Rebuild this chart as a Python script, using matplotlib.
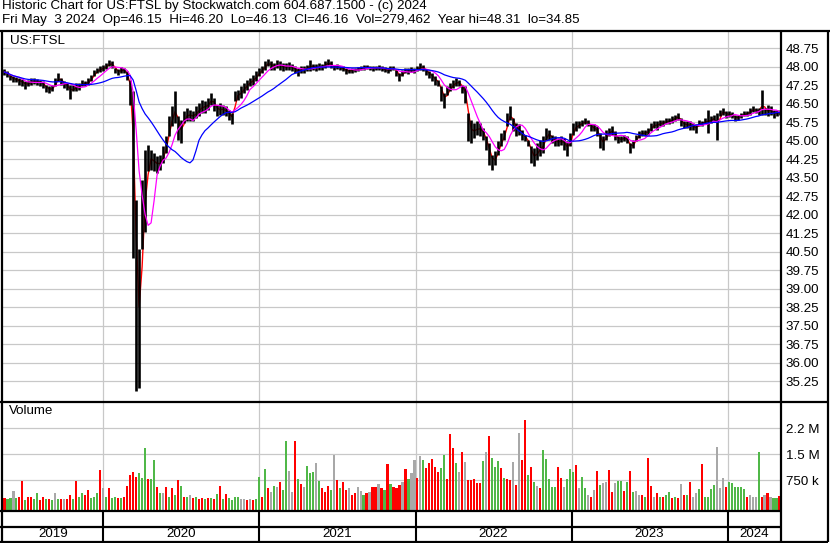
import numpy as np
import pandas as pd
import matplotlib
matplotlib.use("Agg")
import matplotlib.pyplot as plt
import matplotlib.dates as mdates
from matplotlib.lines import Line2D

plt.rcParams['font.family'] = ['Liberation Sans', 'DejaVu Sans']

# ---------------- data (weekly) ----------------
week_start = pd.date_range('2019-05-13', periods=260, freq='7D')

week_high = [
    47.88, 47.80, 47.67, 47.60, 47.57, 47.53, 47.50, 47.40, 47.47, 47.53,
    47.53, 47.50, 47.47, 47.40, 47.26, 47.20, 47.26, 47.53, 47.74, 47.53,
    47.40, 47.33, 47.26, 47.26, 47.33, 47.33, 47.47, 47.40, 47.53, 47.67,
    47.87, 47.94, 48.03, 48.07, 48.14, 48.25, 48.21, 47.94, 47.90, 47.98,
    47.94, 47.80, 47.47, 47.00, 42.60, 40.60, 43.40, 44.60, 44.83, 44.63,
    44.49, 44.36, 44.42, 44.76, 45.17, 45.98, 46.39, 46.99, 45.98, 45.85,
    46.18, 46.32, 46.25, 46.18, 46.39, 46.52, 46.66, 46.59, 46.72, 46.93,
    46.72, 46.45, 46.52, 46.45, 46.39, 46.25, 46.12, 46.99, 47.06, 47.20,
    47.33, 47.47, 47.53, 47.67, 47.80, 47.94, 48.01, 48.21, 48.30, 48.21,
    48.14, 48.25, 48.21, 48.14, 48.14, 48.17, 48.11, 48.01, 47.94, 48.03,
    48.01, 48.07, 48.28, 48.11, 48.11, 48.14, 48.11, 48.21, 48.30, 48.21,
    48.07, 48.11, 48.03, 48.01, 47.94, 47.90, 47.94, 47.94, 47.98, 48.03,
    48.07, 48.07, 48.03, 48.01, 48.03, 48.07, 48.01, 47.98, 47.94, 48.03,
    48.03, 47.87, 47.74, 47.87, 47.94, 47.94, 47.98, 47.94, 48.01, 48.14,
    48.07, 47.90, 47.80, 47.74, 47.60, 47.47, 47.20, 46.93, 47.20, 47.33,
    47.47, 47.53, 47.47, 47.26, 47.20, 46.12, 45.85, 45.71, 45.78, 45.71,
    45.51, 45.17, 44.90, 44.42, 44.56, 44.97, 45.30, 45.44, 46.12, 46.39,
    45.91, 45.71, 45.65, 45.44, 45.24, 45.03, 44.76, 44.70, 44.90, 45.03,
    45.17, 45.51, 45.44, 45.24, 45.17, 45.10, 45.17, 45.10, 44.97, 45.30,
    45.71, 45.78, 45.78, 45.85, 45.91, 45.85, 45.65, 45.65, 45.58, 45.30,
    45.17, 45.44, 45.51, 45.58, 45.37, 45.17, 45.17, 45.24, 45.17, 44.90,
    45.03, 45.24, 45.37, 45.44, 45.44, 45.51, 45.71, 45.78, 45.78, 45.85,
    45.85, 45.91, 45.91, 45.98, 46.05, 46.12, 45.91, 45.78, 45.78, 45.78,
    45.71, 45.65, 45.85, 45.78, 45.91, 46.25, 45.98, 46.05, 46.12, 46.25,
    46.32, 46.18, 46.18, 46.14, 46.05, 46.05, 46.12, 46.18, 46.18, 46.32,
    46.39, 46.32, 46.32, 47.06, 46.32, 46.45, 46.39, 46.25, 46.25, 46.25,
]

week_low = [
    47.67, 47.58, 47.45, 47.36, 47.36, 47.26, 47.20, 47.10, 47.20, 47.26,
    47.30, 47.26, 47.22, 47.13, 46.95, 46.93, 46.99, 47.20, 47.40, 47.26,
    47.13, 47.06, 46.68, 46.99, 46.99, 47.06, 47.20, 47.20, 47.26, 47.40,
    47.60, 47.74, 47.77, 47.80, 47.90, 48.01, 47.94, 47.74, 47.67, 47.74,
    47.74, 47.47, 46.45, 40.25, 34.85, 34.96, 40.60, 41.30, 43.75, 43.82,
    43.75, 43.68, 43.82, 44.09, 44.49, 45.17, 45.58, 45.71, 45.03, 44.90,
    45.71, 45.78, 45.78, 45.78, 45.91, 45.98, 46.12, 46.12, 46.25, 46.45,
    46.18, 45.98, 46.05, 46.05, 45.98, 45.85, 45.65, 46.59, 46.66, 46.72,
    46.93, 47.06, 47.20, 47.26, 47.40, 47.60, 47.74, 47.87, 48.01, 47.87,
    47.85, 47.94, 47.87, 47.80, 47.85, 47.87, 47.80, 47.74, 47.63, 47.74,
    47.74, 47.80, 47.80, 47.85, 47.80, 47.85, 47.87, 47.94, 48.01, 47.94,
    47.85, 47.90, 47.85, 47.80, 47.71, 47.74, 47.74, 47.77, 47.80, 47.85,
    47.87, 47.90, 47.85, 47.80, 47.85, 47.87, 47.80, 47.77, 47.74, 47.80,
    47.85, 47.60, 47.40, 47.63, 47.74, 47.71, 47.77, 47.74, 47.80, 47.87,
    47.80, 47.67, 47.53, 47.40, 47.26, 47.20, 46.59, 46.32, 46.86, 46.99,
    47.13, 47.20, 47.20, 46.93, 46.52, 44.97, 44.90, 45.10, 45.24, 45.17,
    45.03, 44.63, 44.02, 43.82, 44.02, 44.43, 44.76, 45.03, 45.58, 45.85,
    45.37, 45.17, 45.24, 45.03, 44.97, 44.76, 44.09, 43.95, 44.22, 44.36,
    44.49, 45.03, 45.03, 44.90, 44.76, 44.76, 44.83, 44.63, 44.36, 44.76,
    45.24, 45.37, 45.51, 45.58, 45.65, 45.58, 45.37, 45.37, 45.17, 44.70,
    44.63, 45.03, 45.17, 45.24, 45.03, 44.90, 44.93, 44.97, 44.90, 44.49,
    44.70, 44.97, 45.10, 45.17, 45.17, 45.24, 45.37, 45.51, 45.44, 45.58,
    45.58, 45.65, 45.65, 45.71, 45.78, 45.85, 45.58, 45.51, 45.51, 45.44,
    45.44, 45.30, 45.58, 45.58, 45.65, 45.30, 45.71, 45.78, 45.03, 45.98,
    46.05, 45.91, 45.94, 45.91, 45.78, 45.85, 45.91, 45.98, 45.98, 46.05,
    46.15, 46.10, 46.05, 46.05, 46.05, 45.98, 46.05, 45.91, 46.01, 46.05,
]

# volume in thousands of shares
week_volume_k = [
    220, 200, 240, 440, 220, 250, 730, 170, 270, 250,
    200, 385, 170, 270, 190, 200, 170, 366, 200, 200,
    200, 190, 317, 190, 730, 270, 366, 317, 460, 220,
    270, 366, 1040, 510, 250, 510, 240, 270, 220, 220,
    270, 577, 890, 990, 830, 960, 800, 1660, 780, 770,
    1330, 540, 366, 385, 540, 270, 510, 317, 750, 577,
    270, 270, 317, 220, 270, 190, 220, 200, 240, 220,
    210, 350, 577, 200, 350, 220, 170, 270, 270, 190,
    200, 170, 200, 170, 190, 850, 270, 1070, 510, 414,
    577, 540, 700, 460, 1880, 1020, 414, 1880, 780, 635,
    540, 1150, 943, 990, 1230, 730, 510, 414, 577, 460,
    1470, 750, 510, 700, 460, 510, 317, 366, 540, 440,
    317, 366, 414, 540, 540, 635, 510, 460, 1210, 635,
    560, 510, 600, 700, 1070, 770, 960, 1330, 800, 1440,
    1330, 1090, 1230, 1350, 1135, 990, 1090, 1470, 770, 2080,
    1660, 1230, 990, 1570, 1280, 750, 750, 770, 650, 650,
    1300, 1568, 2020, 1376, 1135, 1300, 1090, 800, 770, 750,
    1260, 600, 2100, 1330, 2480, 895, 1135, 700, 577, 510,
    1616, 1347, 770, 540, 540, 1115, 800, 540, 780, 1060,
    990, 1180, 510, 850, 510, 317, 270, 460, 1020, 600,
    650, 700, 1040, 414, 650, 720, 730, 440, 700, 1020,
    414, 440, 317, 317, 270, 1376, 577, 270, 366, 270,
    250, 317, 414, 240, 250, 220, 635, 317, 317, 700,
    270, 366, 480, 1210, 270, 270, 480, 600, 1690, 510,
    800, 540, 700, 650, 540, 540, 540, 480, 270, 317,
    270, 270, 1560, 270, 317, 366, 250, 220, 220, 280,
]

# r = down, g = up, n = unchanged (one letter per week)
week_volume_dir = "".join([
    "rggngrrgrr", "ggrrgrgngr", "nrrgrggrrg", "ggrngrggrg",
    "rrrrrgggrg", "grgnrgrgrg", "rgnrgrrgrg", "rgrgrggggn",
    "nrnrggrgrn", "gnrggnnrgr", "ngggngrrrg", "nrgrrnrrnn",
    "grnrrnrgrg", "rrrnrgnnrn", "grrrrrggrr", "rgnrnrrrrr",
    "gnrgggrgrr", "nrnrrgrgnr", "gggggrrngg", "grnggnrnrg",
    "nnrrnggrgr", "gnnrgrrnrg", "rggrgrnrgr", "nngrggggnn",
    "nrggggggrn", "nngrnrnggr",
])

price_ticks = [35.25, 36.00, 36.75, 37.50, 38.25, 39.00, 39.75, 40.50, 41.25,
               42.00, 42.75, 43.50, 44.25, 45.00, 45.75, 46.50, 47.25, 48.00, 48.75]
volume_ticks = [750000, 1500000, 2250000]
volume_tick_labels = ["750 k", "1.5 M", "2.2 M"]
years = [2019, 2020, 2021, 2022, 2023, 2024]

title1 = "Historic Chart for US:FTSL by Stockwatch.com 604.687.1500 - (c) 2024"
title2 = ("Fri May  3 2024  Op=46.15  Hi=46.20  Lo=46.13  Cl=46.16  "
          "Vol=279,462  Year hi=48.31  lo=34.85")

FS = 9.6

# ---------------- figure ----------------
W, H = 830, 543
fig = plt.figure(figsize=(W / 100, H / 100), dpi=100)
fig.patch.set_facecolor('white')


def frac(x0, y0, x1, y1):
    return [x0 / W, 1 - y1 / H, (x1 - x0) / W, (y1 - y0) / H]


def hline(y, x0, x1, lw=1.5):
    fig.add_artist(Line2D([x0 / W, x1 / W], [1 - y / H, 1 - y / H],
                          transform=fig.transFigure, color='black', lw=lw,
                          solid_capstyle='butt'))


def vline(x, y0, y1, lw=1.5):
    fig.add_artist(Line2D([x / W, x / W], [1 - y0 / H, 1 - y1 / H],
                          transform=fig.transFigure, color='black', lw=lw,
                          solid_capstyle='butt'))


ax = fig.add_axes(frac(3, 32, 780, 401))
axv = fig.add_axes(frac(3, 402, 780, 510))
axb = fig.add_axes(frac(3, 511, 780, 541))

x = mdates.date2num(week_start) + 2.5
x0_ref = mdates.date2num(pd.Timestamp('2020-01-01'))
xlim = (x0_ref - 233.9, x0_ref + 1583.6)
year_x = [mdates.date2num(pd.Timestamp(f'{y}-01-01')) for y in years[1:]]

hi = np.array(week_high)
lo = np.array(week_low)
mid = pd.Series((hi + lo) / 2)
ma_red = mid.rolling(2, min_periods=1).mean()
ma_mag = mid.rolling(6, min_periods=1).mean()
ma_blue = mid.rolling(20, min_periods=1).mean()

grid_c = '#c8c8c8'
for a in (ax, axv, axb):
    a.set_xlim(*xlim)
    for s in a.spines.values():
        s.set_visible(False)
    a.set_xticks([])

# price panel
for p in price_ticks:
    ax.axhline(p, color=grid_c, lw=0.9, zorder=0)
for yx in year_x:
    ax.axvline(yx, color=grid_c, lw=0.9, zorder=0)
ax.plot(x, ma_red, color='#ff0000', lw=1.0, zorder=1)
ax.vlines(x, lo, hi, color='black', lw=1.9, zorder=2)
ax.plot(x, ma_mag, color='#ff00ff', lw=0.9, zorder=3)
ax.plot(x, ma_blue, color='#0000ff', lw=0.9, zorder=3)
ax.set_ylim(34.44, 49.40)
ax.yaxis.tick_right()
ax.set_yticks(price_ticks)
ax.set_yticklabels([f"{p:.2f}" for p in price_ticks])
ax.tick_params(axis='y', length=0, pad=4.0, labelsize=FS)
ax.text(7 / 777, 1 - 3 / 369, "US:FTSL", transform=ax.transAxes,
        ha='left', va='top', fontsize=FS)

# volume panel
vmin = -115000
for v in volume_ticks:
    axv.axhline(v, color=grid_c, lw=0.9, zorder=0)
for yx in year_x:
    axv.axvline(yx, color=grid_c, lw=0.9, zorder=0)
cmap = {'r': '#ff0000', 'g': '#50b848', 'n': '#a8a8a8'}
cols = [cmap[c] for c in week_volume_dir]
vol = np.array(week_volume_k) * 1000.0
axv.bar(x, vol - vmin, bottom=vmin, width=5.0, color=cols, zorder=2,
        linewidth=0)
axv.set_ylim(vmin, 3000000)
axv.yaxis.tick_right()
axv.set_yticks(volume_ticks)
axv.set_yticklabels(volume_tick_labels)
axv.tick_params(axis='y', length=0, pad=4.0, labelsize=FS)
axv.text(6 / 777, 1 - 3 / 108, "Volume", transform=axv.transAxes,
         ha='left', va='top', fontsize=FS)

# bottom year band
axb.set_ylim(0, 1)
axb.set_yticks([])
for yx in year_x:
    axb.axvline(yx, color='black', lw=1.5)
bounds = [xlim[0]] + year_x + [xlim[1]]
for i, yr in enumerate(years):
    axb.text((bounds[i] + bounds[i + 1]) / 2, 0.22, str(yr), ha='center',
             va='center', fontsize=FS)

# frame lines
hline(30.5, 0, 830, 1.6)
vline(1.5, 30, 543, 1.6)
vline(781, 30, 542, 1.6)
vline(828, 30, 542, 1.6)
hline(401.5, 0, 828, 1.6)
hline(510.5, 0, 781, 1.6)
hline(526.5, 0, 781, 1.6)
hline(541.5, 0, 828, 1.6)

fig.text(2 / W, 1 - 0 / H, title1, ha='left', va='top', fontsize=FS)
fig.text(2 / W, 1 - 14.5 / H, title2, ha='left', va='top', fontsize=FS)

fig.savefig('out.png', dpi=100)
